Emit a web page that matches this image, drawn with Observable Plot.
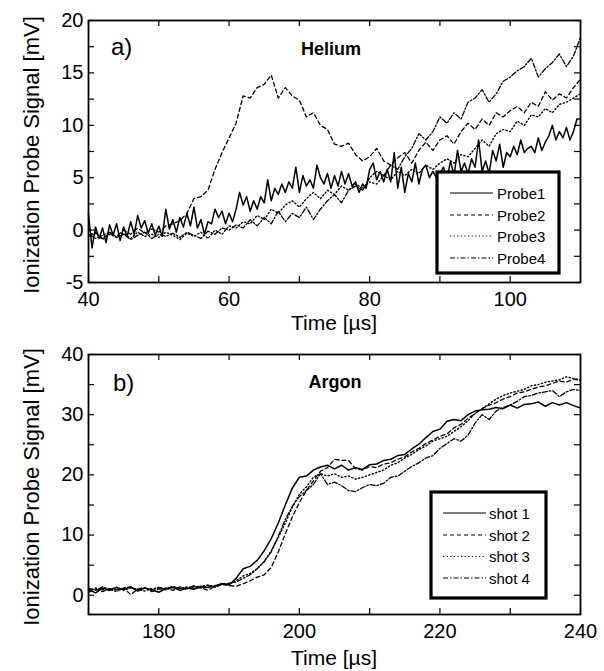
<!DOCTYPE html>
<html><head><meta charset="utf-8">
<script src="https://cdn.jsdelivr.net/npm/d3@7"></script>
<script src="https://cdn.jsdelivr.net/npm/@observablehq/plot@0.6"></script>
<style>
body{margin:0;background:#fff;}
#chart{width:604px;height:671px;background:#fff;}
svg{display:block}
</style>
</head><body><div id="chart"></div>
<script>
// ---------- Panel a) Helium ----------
const tTop1 = [
  40,40.5,41,41.5,42,42.5,43,43.5,44,44.5,
  45,45.5,46,46.5,47,47.5,48,48.5,49,49.5,
  50,50.5,51,51.5,52,52.5,53,53.5,54,54.5,
  55,55.5,56,56.5,57,57.5,58,58.5,59,59.5,
  60,60.5,61,61.5,62,62.5,63,63.5,64,64.5,
  65,65.5,66,66.5,67,67.5,68,68.5,69,69.5,
  70,70.5,71,71.5,72,72.5,73,73.5,74,74.5,
  75,75.5,76,76.5,77,77.5,78,78.5,79,79.5,
  80,80.5,81,81.5,82,82.5,83,83.5,84,84.5,
  85,85.5,86,86.5,87,87.5,88,88.5,89,89.5,
  90,90.5,91,91.5,92,92.5,93,93.5,94,94.5,
  95,95.5,96,96.5,97,97.5,98,98.5,99,99.5,
  100,100.5,101,101.5,102,102.5,103,103.5,104,104.5,
  105,105.5,106,106.5,107,107.5,108,108.5,109,109.5,
  110];
const probe1 = [
  1.5,-1.7,0.3,-0.8,0.2,-1.2,0.5,-0.5,0.6,-1.0,
  0.3,-0.6,0.8,-0.4,1.4,0.2,0.9,-0.3,0.6,-0.5,
  0.4,-0.6,2.0,0.1,1.0,-0.2,1.2,0.3,1.6,0.4,
  2.2,0.2,1.0,-0.4,0.8,0.6,2.0,1.2,1.8,0.6,
  1.6,0.8,2.0,3.6,2.4,3.2,1.8,2.8,2.0,3.2,
  2.6,4.8,2.8,4.0,3.4,4.4,3.6,4.6,4.0,6.0,
  3.6,5.2,4.2,4.8,4.0,6.2,5.0,4.4,5.4,4.0,
  5.2,4.2,5.6,4.4,5.4,4.2,4.6,3.6,4.4,4.0,
  5.8,6.4,4.8,5.6,4.6,5.8,4.6,7.4,4.0,6.0,
  3.6,5.4,4.6,6.4,4.4,5.8,6.2,5.0,5.6,5.0,
  5.4,6.0,4.8,6.6,5.2,7.6,5.6,6.4,5.4,6.8,
  6.0,8.6,5.6,6.6,5.4,7.6,6.6,8.2,6.0,7.4,
  7.0,8.0,7.2,8.6,7.4,7.8,8.0,7.4,8.8,7.6,
  8.4,9.0,10.0,8.6,9.4,8.8,9.8,8.6,9.4,10.6,
  10.6];
const tTop = [
  40,41,42,43,44,45,46,47,48,49,
  50,51,52,53,54,55,56,57,58,59,
  60,61,62,63,64,65,66,67,68,69,
  70,71,72,73,74,75,76,77,78,79,
  80,81,82,83,84,85,86,87,88,89,
  90,91,92,93,94,95,96,97,98,99,
  100,101,102,103,104,105,106,107,108,109,
  110];
const probe2 = [
  -0.5,-0.2,-0.8,-0.3,-0.6,0.0,-0.4,0.2,-0.3,0.1,
  -0.2,0.4,0.6,0.9,1.6,3.0,3.2,3.8,5.8,7.4,
  8.8,10.2,12.8,12.6,13.6,13.9,14.8,12.6,13.6,12.8,
  12.4,10.8,11.2,10.0,9.6,8.2,8.0,8.3,7.2,6.6,
  7.0,7.8,6.6,6.2,6.9,7.4,6.4,7.6,8.4,7.6,
  8.6,9.0,8.2,9.4,10.2,9.6,10.6,10.0,11.2,10.8,
  11.4,11.8,11.2,12.2,11.8,13.2,12.4,13.0,12.6,13.6,
  14.4];
const probe3 = [
  -0.6,-0.3,-0.9,-0.4,-0.7,-0.3,-0.8,-0.2,-0.6,-0.4,
  -0.7,-0.2,-0.5,-0.9,-0.3,-0.6,-0.2,-0.8,0.0,-0.4,
  0.4,0.2,0.8,0.6,1.4,1.0,2.0,1.6,2.4,2.8,
  2.2,3.0,3.6,3.0,3.8,3.4,4.2,3.8,4.4,4.0,
  4.6,4.4,5.2,4.8,5.6,5.2,5.8,5.4,6.2,5.8,
  6.4,6.8,6.4,7.2,7.0,7.8,8.6,8.0,9.2,9.6,
  9.4,10.4,10.0,11.0,10.8,11.6,11.2,12.0,12.2,12.6,
  13.0];
const probe4 = [
  -0.4,-0.8,-0.5,-0.2,-0.7,-0.4,-0.9,-0.5,-0.2,-0.8,
  -0.4,-0.6,-0.3,-0.7,-0.2,-0.5,-0.8,-0.1,-0.4,0.2,
  0.0,0.5,0.2,1.0,0.4,1.2,0.6,1.8,0.8,1.6,
  1.2,2.2,1.0,2.0,2.8,3.4,2.6,3.8,4.2,3.8,
  5.0,5.6,5.2,6.2,5.8,7.0,7.8,9.2,8.6,9.4,
  10.8,10.2,11.2,10.6,12.2,12.6,13.4,12.2,13.0,14.2,
  14.6,15.2,15.6,16.4,14.6,15.4,16.0,16.8,15.6,16.6,
  18.4];
const topXTicks = [40, 60, 80, 100];
const topXMinor = [50, 70, 90];
const topYTicks = [-5, 0, 5, 10, 15, 20];
const topYMinor = [-2.5, 2.5, 7.5, 12.5, 17.5];
const topLegend = ["Probe1", "Probe2", "Probe3", "Probe4"];

// ---------- Panel b) Argon ----------
const tBot = [
  170,171,172,173,174,175,176,177,178,179,
  180,181,182,183,184,185,186,187,188,189,
  190,191,192,193,194,195,196,197,198,199,
  200,201,202,203,204,205,206,207,208,209,
  210,211,212,213,214,215,216,217,218,219,
  220,221,222,223,224,225,226,227,228,229,
  230,231,232,233,234,235,236,237,238,239,
  240];
const shot1 = [
  1.0,0.4,1.2,0.8,1.3,0.9,1.4,0.7,1.2,0.9,
  0.5,1.1,1.3,0.8,1.2,1.0,1.4,1.3,1.6,1.9,
  1.7,2.8,4.4,4.8,5.8,7.4,9.4,12.0,15.0,17.8,
  19.6,19.8,20.8,21.3,21.6,21.0,21.6,20.8,21.2,20.9,
  21.7,21.8,22.4,22.6,23.2,23.4,24.3,25.1,26.2,27.2,
  27.6,28.9,29.2,29.0,30.0,30.6,30.8,30.9,31.2,31.0,
  31.6,31.1,31.7,31.8,32.1,31.4,32.0,31.6,32.0,31.5,
  31.1];
const shot2 = [
  0.5,1.0,0.6,1.1,0.9,1.2,0.1,1.0,1.3,0.6,
  1.0,1.2,0.8,1.4,1.1,1.6,1.3,0.8,1.5,1.8,
  1.6,1.5,1.9,2.4,3.0,3.4,4.6,7.2,10.2,13.0,
  15.4,17.4,19.0,20.6,21.2,22.6,22.4,22.4,21.0,20.8,
  21.4,21.2,21.8,22.0,22.6,23.0,23.8,24.4,25.2,25.8,
  26.4,26.8,27.8,28.4,29.4,30.2,31.0,31.6,32.0,32.6,
  33.0,33.6,33.8,34.2,34.6,34.8,35.2,35.6,35.4,35.9,
  35.7];
const shot3 = [
  0.8,1.2,0.9,1.0,1.3,0.8,1.2,1.0,0.7,1.1,
  1.2,0.9,1.3,1.1,1.4,1.2,1.5,1.7,1.4,2.0,
  1.8,2.4,3.2,3.6,4.4,5.6,7.4,9.6,12.0,14.6,
  16.8,18.0,19.6,20.2,19.8,20.2,19.6,19.8,19.3,19.6,
  20.0,20.4,20.8,21.6,22.0,22.8,23.4,24.2,24.8,25.6,
  26.0,26.4,27.2,28.0,29.0,30.2,31.0,31.8,32.6,33.2,
  33.6,33.9,34.2,34.8,35.0,35.4,35.6,35.8,36.3,36.0,
  35.8];
const shot4 = [
  1.2,0.8,1.4,1.0,0.6,1.2,1.4,0.9,1.2,0.8,
  1.3,1.0,1.5,1.2,1.0,1.5,1.2,1.6,1.3,1.8,
  2.0,2.2,2.8,3.4,4.4,5.6,7.2,9.8,12.6,14.8,
  16.4,17.4,18.4,20.2,18.4,18.8,18.2,17.4,17.2,17.9,
  18.4,18.2,18.6,19.6,19.8,20.6,21.4,22.0,22.8,23.2,
  24.4,25.2,26.0,25.6,26.6,28.6,30.0,29.2,30.6,31.2,
  31.6,32.2,33.0,33.2,33.6,33.8,34.0,33.0,33.8,34.2,
  34.0];
const botXTicks = [180, 200, 220, 240];
const botXMinor = [170, 190, 210, 230];
const botYTicks = [0, 10, 20, 30, 40];
const botYMinor = [5, 15, 25, 35];
const botLegend = ["shot 1", "shot 2", "shot 3", "shot 4"];

// ---------- styling ----------
const FONT = "'Liberation Sans', Arial, Helvetica, sans-serif";
const dashes = [null, "4,3", "1.2,2.4", "5,2,1.5,2"];
const widths = [1.5, 1.3, 1.4, 1.3];
const W = 604, ML = 88, MR = 24, TICK = 6;

function panel({height, marginTop, marginBottom, xDomain, yDomain, xTicks, xMinor, yTicks, yMinor, series}) {
  const ph = height - marginTop - marginBottom;
  const pw = W - ML - MR;
  const allX = xTicks.concat(xMinor), allY = yTicks.concat(yMinor);
  return Plot.plot({
    width: W, height, marginLeft: ML, marginRight: MR, marginTop, marginBottom,
    style: {fontFamily: FONT, fontSize: "20px", background: "white", color: "black", overflow: "visible"},
    x: {domain: xDomain},
    y: {domain: yDomain},
    marks: [
      ...series.map((s, i) => Plot.line(s.y, {x: s.x, y: s.y, stroke: "black", strokeWidth: widths[i],
        strokeDasharray: dashes[i], strokeLinejoin: "round", curve: "linear"})),
      Plot.tickX(allX, {x: d => d, insetTop: ph - TICK, stroke: "black", strokeWidth: 1.2}),
      Plot.tickX(allX, {x: d => d, insetBottom: ph - TICK, stroke: "black", strokeWidth: 1.2}),
      Plot.tickY(allY, {y: d => d, insetRight: pw - TICK, stroke: "black", strokeWidth: 1.2}),
      Plot.tickY(allY, {y: d => d, insetLeft: pw - TICK, stroke: "black", strokeWidth: 1.2}),
      Plot.axisX(xTicks, {anchor: "bottom", tickSize: 0, tickPadding: 9, label: null,
        tickFormat: d => String(d), fontSize: 20, fill: "black"}),
      Plot.axisY(yTicks, {anchor: "left", tickSize: 0, tickPadding: 5, label: null,
        tickFormat: d => String(d), fontSize: 20, fill: "black"}),
      Plot.frame({stroke: "black", strokeWidth: 1.8})
    ]
  });
}

function decorate(svg, {tag, tagX, tagY, title, titleX, titleY, yLabelY, xLabelY, legend, box, lineX1, lineX2, textX, rowsY}) {
  const s = d3.select(svg);
  s.append("text").attr("x", tagX).attr("y", tagY).attr("font-family", FONT)
    .attr("text-anchor", "start").attr("font-size", 24).attr("fill", "black").text(tag);
  s.append("text").attr("x", titleX).attr("y", titleY).attr("font-family", FONT)
    .attr("font-size", 18).attr("font-weight", "bold").attr("text-anchor", "middle")
    .attr("fill", "black").text(title);
  s.append("text").attr("transform", `translate(31,${yLabelY}) rotate(-90)`)
    .attr("font-family", FONT).attr("font-size", 22).attr("text-anchor", "middle")
    .attr("dominant-baseline", "central").attr("fill", "black").text("Ionization Probe Signal [mV]");
  s.append("text").attr("x", 334).attr("y", xLabelY).attr("font-family", FONT)
    .attr("font-size", 21).attr("text-anchor", "middle").attr("dominant-baseline", "central")
    .attr("fill", "black").text("Time [\u00b5s]");
  const g = s.append("g");
  g.append("rect").attr("x", box[0]).attr("y", box[1]).attr("width", box[2] - box[0])
    .attr("height", box[3] - box[1]).attr("fill", "white").attr("stroke", "black").attr("stroke-width", 3.2);
  legend.forEach((lab, i) => {
    g.append("line").attr("x1", lineX1).attr("x2", lineX2).attr("y1", rowsY[i]).attr("y2", rowsY[i])
      .attr("stroke", "black").attr("stroke-width", 1.2).attr("stroke-dasharray", dashes[i]);
    g.append("text").attr("x", textX).attr("y", rowsY[i]).attr("font-family", FONT)
      .attr("text-anchor", "start").attr("font-size", 15).attr("dominant-baseline", "central")
      .attr("fill", "black").text(lab);
  });
}

const chartEl = document.getElementById("chart");

const topSvg = panel({
  height: 320, marginTop: 20, marginBottom: 38,
  xDomain: [40, 110], yDomain: [-5, 20],
  xTicks: topXTicks, xMinor: topXMinor, yTicks: topYTicks, yMinor: topYMinor,
  series: [{x: tTop1, y: probe1}, {x: tTop, y: probe2}, {x: tTop, y: probe3}, {x: tTop, y: probe4}]
});
chartEl.appendChild(topSvg);
decorate(topSvg, {tag: "a)", tagX: 111, tagY: 55, title: "Helium", titleX: 331, titleY: 55,
  yLabelY: 155, xLabelY: 322, legend: topLegend, box: [437, 172, 559, 273],
  lineX1: 450, lineX2: 493, textX: 497, rowsY: [193, 215, 236, 258]});

const botSvg = panel({
  height: 351, marginTop: 34, marginBottom: 57,
  xDomain: [170, 240], yDomain: [-3.2, 40],
  xTicks: botXTicks, xMinor: botXMinor, yTicks: botYTicks, yMinor: botYMinor,
  series: [{x: tBot, y: shot1}, {x: tBot, y: shot2}, {x: tBot, y: shot3}, {x: tBot, y: shot4}]
});
chartEl.appendChild(botSvg);
decorate(botSvg, {tag: "b)", tagX: 113, tagY: 71, title: "Argon", titleX: 335, titleY: 68,
  yLabelY: 167, xLabelY: 337, legend: botLegend, box: [431, 172, 546, 278],
  lineX1: 443, lineX2: 486, textX: 489, rowsY: [193, 215, 236.5, 258]});
</script>
</body></html>
